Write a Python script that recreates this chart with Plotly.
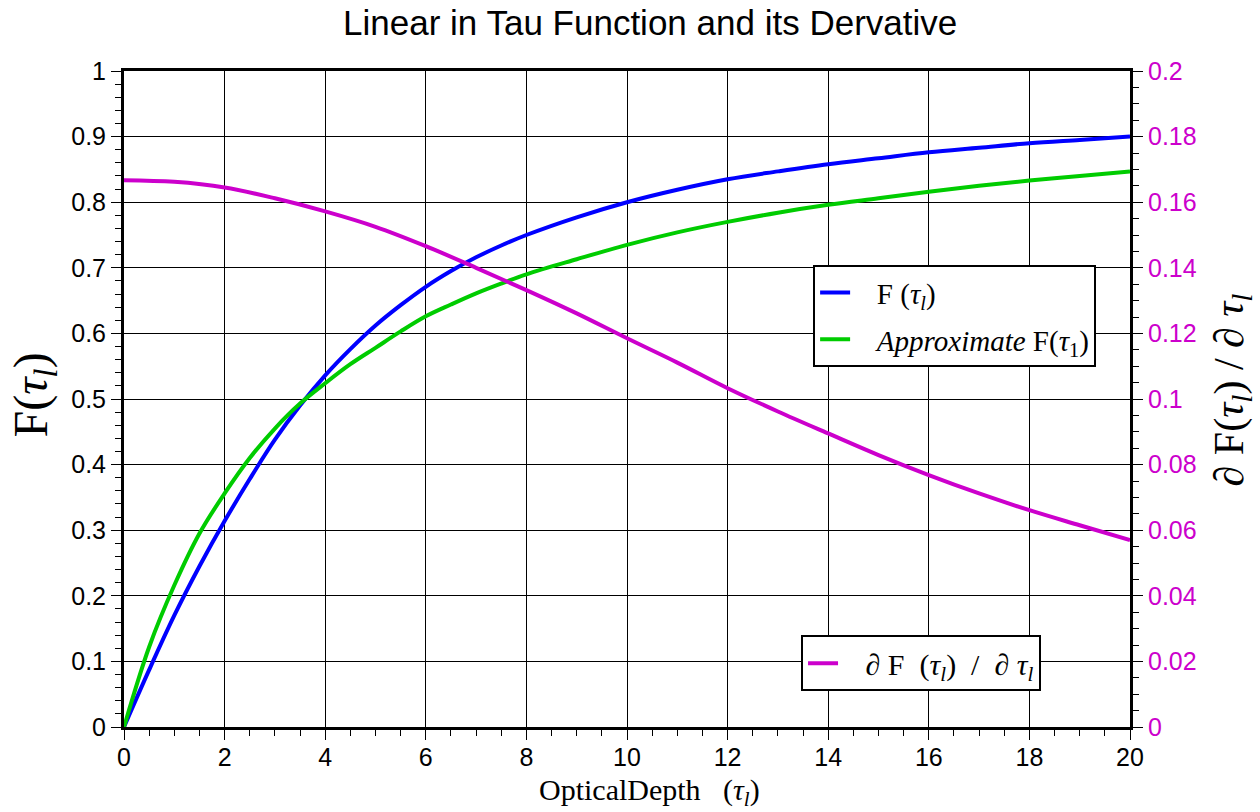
import plotly.graph_objects as go

# ---- data ----
tau_f = [0, 0.5, 1, 1.5, 2, 2.5, 3, 3.5, 4, 4.5, 5, 5.5, 6, 6.5, 7, 7.5, 8, 9, 10, 11, 12, 13, 14, 15, 16, 17, 18, 19, 20]
f_exact = [0, 0.087, 0.17, 0.245, 0.314, 0.378, 0.438, 0.49, 0.536, 0.576, 0.612, 0.643, 0.671, 0.695, 0.716,
           0.734, 0.75, 0.777, 0.8, 0.819, 0.835, 0.847, 0.858, 0.867, 0.876, 0.883, 0.89, 0.895, 0.9]
f_approx = [0, 0.122, 0.216, 0.295, 0.356, 0.41, 0.455, 0.493, 0.524, 0.553, 0.578, 0.603, 0.626, 0.644, 0.661,
            0.676, 0.69, 0.713, 0.735, 0.754, 0.77, 0.784, 0.796, 0.806, 0.816, 0.825, 0.833, 0.84, 0.847]
tau_d = [0, 1, 2, 3, 4, 5, 6, 7, 8, 9, 10, 11, 12, 13, 14, 15, 16, 17, 18, 19, 20]
dfdtau = [0.1667, 0.1662, 0.1645, 0.1612, 0.1572, 0.1525, 0.1466, 0.140, 0.1332, 0.1261, 0.1185,
          0.1111, 0.1033, 0.0962, 0.0895, 0.0829, 0.0768, 0.0712, 0.0661, 0.0615, 0.057]

title_text = "Linear in Tau Function and its Dervative"
SP = "\u00a0"
name_f = SP * 3 + "F (<i>τ</i><sub><i>l</i></sub>)"
name_approx = SP * 3 + "<i>Approximate</i> F(<i>τ</i><sub>1</sub>)"
name_d = (SP * 3 + "∂" + SP + "F" + SP * 2 + "(<i>τ</i><sub><i>l</i></sub>)" + SP * 2 + "/"
          + SP * 2 + "∂" + SP + "<i>τ</i><sub><i>l</i></sub>")
xtitle = "OpticalDepth   (<i>τ</i><sub><i>l</i></sub>)"
ytitle = "F(<i>τ</i><sub><i>l</i></sub>)"
y2title = "∂ F(<i>τ</i><sub><i>l</i></sub>) / ∂ <i>τ</i><sub><i>l</i></sub>"

BLUE = "#0000ff"
GREEN = "#00cc00"
MAG = "#cc00cc"
SERIF = "Liberation Serif, Times New Roman, serif"
SANS = "Liberation Sans, Arial, sans-serif"

fig = go.Figure()
fig.add_trace(go.Scatter(x=tau_f, y=f_exact, mode="lines", name=name_f, legendgroup="a",
                         line=dict(color=BLUE, width=4, shape="spline", smoothing=1.0), legend="legend"))
fig.add_trace(go.Scatter(x=tau_f, y=f_approx, mode="lines", name=name_approx, legendgroup="b",
                         line=dict(color=GREEN, width=4, shape="spline", smoothing=1.0), legend="legend"))
fig.add_trace(go.Scatter(x=tau_d, y=dfdtau, mode="lines", name=name_d, yaxis="y2",
                         line=dict(color=MAG, width=4, shape="spline", smoothing=1.0), legend="legend2"))

fig.update_layout(
    width=1260, height=812,
    margin=dict(l=124, r=130, t=71, b=85),
    paper_bgcolor="white", plot_bgcolor="white",
    hovermode=False,
    title=dict(text=title_text, x=0.516, xanchor="center", y=0.972, yanchor="middle",
               font=dict(family=SANS, size=35, color="black")),
    xaxis=dict(range=[0, 20], dtick=2, tick0=0, showgrid=True, gridcolor="black", gridwidth=1,
               ticks="outside", ticklen=10, tickwidth=1, tickcolor="black", ticklabelstandoff=-4,
               showline=True, linecolor="black", linewidth=3, mirror=True,
               zeroline=False, tickfont=dict(family=SANS, size=25, color="black"),
               minor=dict(dtick=0.5, ticks="outside", ticklen=6, tickcolor="black", showgrid=False)),
    yaxis=dict(range=[0, 1], dtick=0.1, tick0=0, showgrid=True, gridcolor="black", gridwidth=1,
               ticks="outside", ticklen=10, tickwidth=1, tickcolor="black",
               showline=True, linecolor="black", linewidth=3,
               zeroline=False, tickfont=dict(family=SANS, size=25, color="black"),
               minor=dict(dtick=0.02, ticks="outside", ticklen=6, tickcolor="black", showgrid=False)),
    yaxis2=dict(range=[0, 0.2], dtick=0.02, tick0=0, overlaying="y", side="right", showgrid=False,
                ticks="outside", ticklen=10, tickwidth=1, tickcolor="black",
                showline=True, linecolor="black", linewidth=3, zeroline=False,
                tickfont=dict(family=SANS, size=25, color=MAG),
                minor=dict(dtick=0.005, ticks="outside", ticklen=6, tickcolor="black", showgrid=False)),
    legend=dict(x=0.685, y=0.704, xanchor="left", yanchor="top", bgcolor="white", tracegroupgap=6,
                bordercolor="black", borderwidth=2, font=dict(family=SERIF, size=29, color="black")),
    legend2=dict(x=0.673, y=0.140, xanchor="left", yanchor="top", bgcolor="white",
                 bordercolor="black", borderwidth=2, font=dict(family=SERIF, size=30, color="black")),
)

fig.add_annotation(text=xtitle, xref="paper", yref="paper", x=0.522, y=-0.099,
                   xanchor="center", yanchor="middle", showarrow=False,
                   font=dict(family=SERIF, size=30, color="black"))
fig.add_annotation(text=ytitle, xref="paper", yref="paper", x=-0.089, y=0.506,
                   xanchor="center", yanchor="middle", showarrow=False, textangle=-90,
                   font=dict(family=SERIF, size=48, color="black"))
fig.add_annotation(text=y2title, xref="paper", yref="paper", x=1.101, y=0.514,
                   xanchor="center", yanchor="middle", showarrow=False, textangle=-90,
                   font=dict(family=SERIF, size=42, color="black"))

fig.write_html("out.html")
